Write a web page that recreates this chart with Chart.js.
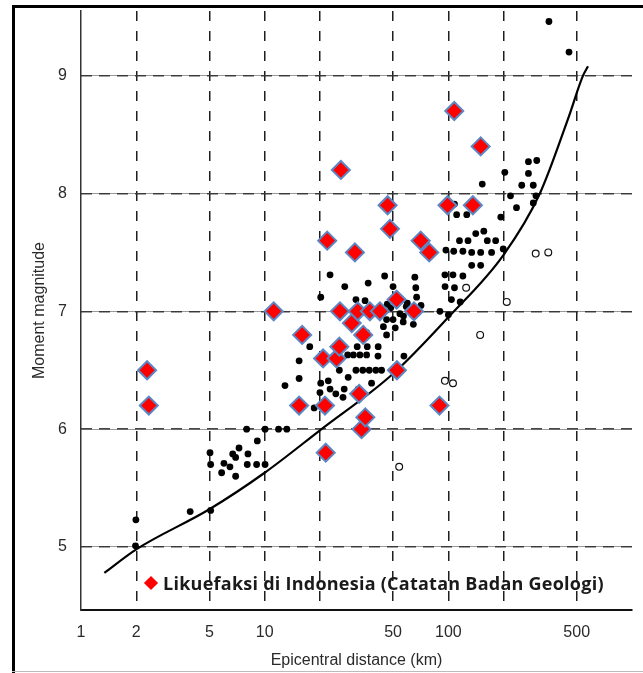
<!DOCTYPE html>
<html>
<head>
<meta charset="utf-8">
<script src="https://cdn.jsdelivr.net/npm/chart.js@4.4.1/dist/chart.umd.min.js"></script>
<style>
    html, body { margin: 0; padding: 0; background: #fff; }
    #wrap { position: relative; width: 643px; height: 673px; overflow: hidden; }
    #frameTop { position: absolute; left: 12px; top: 5px; width: 631px; height: 3px; background: #000; }
    #frameLeft { position: absolute; left: 12px; top: 5px; width: 3px; height: 668px; background: #000; }
    #frameBottom { position: absolute; left: 12px; top: 671px; width: 631px; height: 1px; background: #bbb; }
    #legend { position: absolute; left: 146px; top: 571px; font: 700 18px/24px 'Open Sans', sans-serif; letter-spacing: 0.25px; color: #1a1a1a; white-space: nowrap; }
    #legend .mark { display: inline-block; width: 10px; height: 10px; background: #ff0000; transform: rotate(45deg); margin-right: 7px; vertical-align: 2px; }
</style>
</head>
<body>
<div id="wrap">
    <canvas id="chart" width="643" height="673"></canvas>
    <div id="frameTop"></div>
    <div id="frameLeft"></div>
    <div id="frameBottom"></div>
    <div id="legend"><span class="mark"></span>Likuefaksi di Indonesia (Catatan Badan Geologi)</div>
</div>
<script>
// 刻度
const xTicks = [1, 2, 5, 10, 20, 50, 100, 200, 500, 1000];
const xLabels = [1, 2, 5, 10, 50, 100, 500];
const yTicks = [5, 6, 7, 8, 9];

// 界限曲线 (km, Mw)
const curveDistance = [1.34, 2, 5, 10, 20, 50, 100, 200, 315, 450, 541, 576];
const curveMagnitude = [4.78, 4.98, 5.32, 5.63, 5.99, 6.47, 6.95, 7.48, 8.0, 8.64, 9.0, 9.08];

// 液化记录 (实心点)
const liquefied = [
    [1.98, 5.01], [1.99, 5.23], [3.93, 5.30], [5.08, 5.31],
    [5.04, 5.80], [5.08, 5.70], [5.83, 5.63], [6.0, 5.71], [6.47, 5.68], [6.70, 5.79],
    [6.95, 5.60], [6.95, 5.76], [7.25, 5.84], [8.11, 5.79], [8.04, 5.70], [9.04, 5.70],
    [9.12, 5.90], [7.98, 6.00], [10.05, 5.70],
    [10.05, 6.00], [11.9, 6.00], [13.2, 6.00],
    [12.9, 6.37], [15.4, 6.43], [15.4, 6.58], [17.6, 6.70], [18.6, 6.18],
    [20.2, 6.39], [20.0, 6.31], [22.2, 6.41], [22.7, 6.34], [24.4, 6.30], [27.1, 6.34],
    [26.7, 6.27], [28.5, 6.44], [32.3, 6.34], [38.2, 6.39],
    [25.5, 6.50], [31.4, 6.50], [34.2, 6.50], [37.1, 6.50], [40.3, 6.50], [43.3, 6.50],
    [28.3, 6.63], [30.4, 6.63], [33.0, 6.63], [35.9, 6.63], [41.4, 6.62], [57.3, 6.62],
    [31.9, 6.70], [36.2, 6.70], [41.5, 6.70],
    [35.9, 6.82], [46.1, 6.80], [44.3, 6.87], [51.4, 6.86], [46.1, 6.93], [50.0, 6.93],
    [56.8, 6.91], [54.5, 6.98], [64.5, 6.89], [57, 6.96], [59, 7.04],
    [20.2, 7.12], [22.7, 7.31], [27.3, 7.21], [36.6, 7.24], [45.0, 7.30], [50.0, 7.21],
    [31.4, 7.10], [35.2, 7.09], [46.5, 7.06], [48.6, 7.03], [59.8, 7.07], [65.7, 7.29],
    [66.5, 7.20], [67.2, 7.12], [71, 7.05], [90, 7.00], [100, 6.97],
    [95.8, 7.31], [106, 7.31], [120, 7.30], [96, 7.21], [108, 7.20], [104, 7.10], [116, 7.08],
    [134, 7.39], [150, 7.39],
    [97, 7.52], [107, 7.51], [120, 7.51], [134, 7.50], [150, 7.50], [172, 7.50],
    [115, 7.60], [128, 7.60], [163, 7.60], [181, 7.60], [199, 7.53], [141, 7.66], [156, 7.68],
    [111, 7.82], [126, 7.82], [108, 7.91], [193, 7.80],
    [218, 7.98], [235, 7.88], [290, 7.92], [300, 7.98], [251, 8.07], [290, 8.07], [153, 8.08],
    [203, 8.18], [273, 8.17], [273, 8.27], [303, 8.28],
    [353, 9.46], [454, 9.20]
];

// 未液化 (空心点)
const notLiquefied = [
    [125, 7.20], [208, 7.08], [299, 7.49], [350, 7.50], [149, 6.80],
    [95.8, 6.41], [106, 6.39], [54, 5.68]
];

// 印尼液化记录 (红色菱形)
const indonesia = [
    [2.29, 6.50], [2.34, 6.20], [11.2, 7.00], [15.4, 6.20], [16, 6.80], [20.8, 6.60],
    [21.3, 6.20], [21.5, 5.80], [21.9, 7.60], [24.6, 6.60], [25.5, 6.70], [25.7, 7.00],
    [26, 8.20], [29.8, 6.90], [31, 7.50], [32.1, 7.00], [32.7, 6.30], [33.7, 6.00],
    [34.4, 6.80], [35.3, 6.10], [37.4, 7.00], [42.4, 7.00], [46.7, 7.90], [48.1, 7.70],
    [52.3, 7.10], [52.5, 6.50], [65, 7.00], [70.7, 7.60], [78.7, 7.50], [89.5, 6.20],
    [99, 7.90], [107.7, 8.70], [136, 7.90], [150, 8.40]
];

const toXY = pairs => pairs.map(([x, y]) => ({ x: x, y: y }));
const textColor = '#2a2a2a';

const ctx = document.getElementById('chart').getContext('2d');
new Chart(ctx, {
    type: 'scatter',
    data: {
        datasets: [
            {
                label: 'Likuefaksi di Indonesia (Catatan Badan Geologi)',
                data: toXY(indonesia),
                pointStyle: 'rectRot',
                pointRadius: 9,
                backgroundColor: '#ff0000',
                borderColor: '#5b87c4',
                borderWidth: 2,
                order: 0
            },
            {
                label: 'Liquefaction',
                data: toXY(liquefied),
                pointStyle: 'circle',
                pointRadius: 3.4,
                backgroundColor: '#000',
                borderColor: '#000',
                borderWidth: 0,
                order: 1
            },
            {
                label: 'No liquefaction',
                data: toXY(notLiquefied),
                pointStyle: 'circle',
                pointRadius: 3.4,
                backgroundColor: '#fff',
                borderColor: '#111',
                borderWidth: 1.2,
                order: 1
            },
            {
                type: 'line',
                label: 'Limit',
                data: curveDistance.map((d, i) => ({ x: d, y: curveMagnitude[i] })),
                borderColor: '#000',
                borderWidth: 2.2,
                pointRadius: 0,
                fill: false,
                cubicInterpolationMode: 'monotone',
                order: 2
            }
        ]
    },
    options: {
        responsive: false,
        animation: false,
        layout: { padding: { left: 13, right: 11, top: 8, bottom: 0 } },
        plugins: {
            legend: { display: false },
            tooltip: { enabled: false }
        },
        scales: {
            x: {
                type: 'logarithmic',
                min: 1,
                max: 1000,
                afterBuildTicks: s => { s.ticks = xTicks.map(v => ({ value: v })); },
                afterFit: s => { s.height = 63; s.paddingLeft = 0; s.paddingRight = 0; },
                ticks: {
                    autoSkip: false,
                    maxRotation: 0,
                    padding: 13,
                    color: textColor,
                    font: { family: 'Liberation Sans', size: 16 },
                    callback: v => xLabels.includes(v) ? String(v) : ''
                },
                grid: {
                    drawTicks: false,
                    color: c => (c.tick && (c.tick.value === 1 || c.tick.value === 1000)) ? 'rgba(0,0,0,0)' : '#1e1e1e',
                    lineWidth: 1.5
                },
                border: { display: true, color: '#111', width: 2, dash: [10, 10] },
                title: {
                    display: true,
                    text: 'Epicentral distance (km)',
                    color: textColor,
                    font: { family: 'Liberation Sans', size: 16 },
                    padding: { top: 0, bottom: 3 }
                }
            },
            y: {
                min: 4.465,
                max: 9.549,
                afterBuildTicks: s => { s.ticks = yTicks.map(v => ({ value: v })); },
                afterFit: s => { s.width = 68; s.paddingTop = 0; s.paddingBottom = 0; },
                ticks: {
                    padding: 14,
                    color: textColor,
                    font: { family: 'Liberation Sans', size: 16 }
                },
                grid: { drawTicks: false, color: '#9a9a9a', lineWidth: 1 },
                border: { display: true, color: '#333', width: 1.5 },
                title: {
                    display: true,
                    text: 'Moment magnitude',
                    color: textColor,
                    font: { family: 'Liberation Sans', size: 16 },
                    padding: { top: 17, bottom: 0 }
                }
            },
            yDash: {
                position: 'left',
                min: 4.465,
                max: 9.549,
                afterBuildTicks: s => { s.ticks = yTicks.map(v => ({ value: v })); },
                afterFit: s => { s.width = 0; s.paddingTop = 0; s.paddingBottom = 0; },
                ticks: { display: false },
                grid: { drawTicks: false, color: 'rgba(40,40,40,0.85)', lineWidth: 1.5 },
                border: { display: false, dash: [11, 7] }
            }
        }
    }
});
</script>
</body>
</html>
